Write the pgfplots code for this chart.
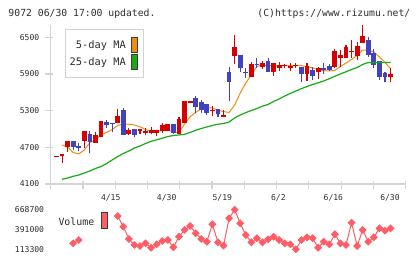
\documentclass[border=0pt]{standalone}
\usepackage{pgfplots}
\pgfplotsset{compat=1.18}
\usepackage{pgfplotstable}
\usepackage{fontspec}
\setmainfont{DejaVu Sans Mono}
\setmonofont{DejaVu Sans Mono}
\definecolor{upred}{RGB}{214,0,0}
\definecolor{downblue}{RGB}{66,66,190}
\definecolor{maorange}{RGB}{240,140,20}
\definecolor{magreen}{RGB}{22,170,22}
\definecolor{volpink}{RGB}{255,92,102}
\definecolor{axgray}{RGB}{212,212,212}
\definecolor{txt}{RGB}{45,45,45}
\definecolor{swborder}{RGB}{60,60,60}

% up (red) candles: index open high low close
\pgfplotstableread{
x o h l c
0 4550 4556 4550 4556
1 4552 4591 4439 4591
2 4710 4799 4628 4799
5 4808 4967 4684 4967
7 4776 4956 4776 4902
8 4874 5131 4874 5131
11 5093 5322 5093 5212
13 4918 5011 4902 4983
15 4972 4995 4913 4995
16 4939 5011 4902 4967
17 4929 5028 4913 4983
18 4929 4983 4885 4983
19 4972 5093 4939 5065
20 4972 5082 4972 5082
22 4918 5201 4918 5163
23 5093 5460 5093 5458
24 5420 5458 5420 5458
28 5294 5376 5212 5311
30 5201 5311 5201 5229
32 6199 6538 6058 6346
35 5855 6091 5855 6058
37 6019 6112 5981 6085
39 5937 6074 5867 6074
40 6003 6091 5954 6047
41 6025 6063 5993 6047
42 6003 6074 5954 6035
43 6025 6074 5997 6047
45 5900 6074 5790 6030
47 5937 6019 5818 5993
50 6019 6309 5993 6276
51 6166 6292 6019 6210
52 6156 6374 6156 6346
53 6254 6456 6166 6276
54 6199 6418 6128 6363
55 6402 6701 6402 6526
60 5855 6003 5774 5900
}\uptab

% down (blue) candles: index open high low close
\pgfplotstableread{
x o h l c
3 4799 4799 4656 4710
4 4727 4766 4640 4684
6 4918 4967 4602 4792
9 5109 5147 5011 5065
10 5093 5093 4956 5082
12 5311 5338 4902 4902
14 4995 4995 4874 4907
21 5082 5082 4918 4939
25 5502 5540 5257 5365
26 5447 5474 5257 5311
27 5409 5409 5229 5266
29 5322 5322 5191 5240
31 5937 6019 5458 5774
33 6210 6210 5937 5993
34 5937 6003 5839 5921
36 6063 6156 5993 6047
38 6112 6166 5937 5937
44 6019 6019 5774 5900
46 5965 6019 5801 5872
48 5993 6074 5895 5965
49 6035 6063 5954 5965
56 6456 6510 6183 6210
57 6238 6309 5993 6047
58 6112 6112 5801 5855
59 5911 5937 5764 5855
}\downtab

% 5-day moving average
\pgfplotstableread{
x v
1 4738
2 4705
3 4615
4 4591
5 4656
6 4779
7 4820
8 4902
9 4946
10 4992
11 5057
12 5082
13 5077
14 5065
15 5037
16 4992
17 4967
18 4972
19 4975
20 4983
21 4951
22 4943
23 5080
24 5200
25 5270
26 5330
27 5348
28 5343
29 5306
30 5286
31 5270
32 5392
33 5589
34 5752
35 5883
36 6022
37 6047
38 6035
39 6035
40 6035
41 6035
42 6035
43 6035
44 6035
45 6022
46 5998
47 5973
48 5954
49 5949
50 5957
51 6022
52 6080
53 6137
54 6202
55 6292
56 6292
57 6260
58 6178
59 6088
60 5990
}\mafive

% 25-day moving average
\pgfplotstableread{
x v
1 4177
2 4198
3 4226
4 4247
5 4280
6 4313
7 4354
8 4386
9 4435
10 4493
11 4550
12 4599
13 4640
14 4689
15 4722
16 4763
17 4799
18 4823
19 4849
20 4877
21 4893
22 4902
23 4913
24 4943
25 4979
26 5008
27 5033
28 5057
29 5078
30 5090
31 5114
32 5180
33 5229
34 5267
35 5303
36 5335
37 5373
38 5401
39 5450
40 5491
41 5540
42 5581
43 5621
44 5659
45 5695
46 5728
47 5756
48 5785
49 5823
50 5862
51 5900
52 5936
53 5973
54 6006
55 6055
56 6088
57 6088
58 6088
59 6088
60 6088
}\matwentyfive

% volume (points visible beside the Volume label)
\pgfplotstableread{
x v
3 202000
4 248000
}\volA
\pgfplotstableread{
x v
11 581000
12 433000
13 262000
14 179000
15 165000
16 202000
17 141000
18 188000
19 234000
20 248000
21 147000
22 294000
23 387000
24 442000
25 341000
26 262000
27 224000
28 466000
29 216000
30 169000
31 549000
32 669000
33 480000
34 317000
35 216000
36 272000
37 216000
38 258000
39 294000
40 248000
41 202000
42 188000
43 119000
44 248000
45 285000
46 272000
47 141000
48 224000
49 188000
50 327000
51 202000
52 179000
53 488000
54 165000
55 387000
56 224000
57 285000
58 410000
59 377000
60 410000
}\volB

\begin{document}
\begin{tikzpicture}
\useasboundingbox (0,0) rectangle (420bp,259bp);

\begin{axis}[
  at={(50.7bp,75bp)}, anchor=south west,
  scale only axis, width=355bp, height=159bp,
  xmin=-1.042, xmax=62.725, ymin=4100, ymax=6701,
  clip=false,
  axis x line*=bottom, axis y line*=left,
  axis line style={draw=axgray, line width=1.2bp, -},
  tick style={draw=axgray, line width=1.2bp},
  tick align=center,
  major tick length=8.4bp,
  x tick style={yshift=-1bp},
  y tick style={xshift=-1.5bp},
  xtick={-1.042,4.755,10.552,16.349,22.146,27.943,33.740,39.537,45.334,51.131,56.928,62.725},
  xticklabels={},
  extra x ticks={9.74,19.79,29.79,39.85,49.73,59.9},
  extra x tick labels={4/15,4/30,5/19,6/2,6/16,6/30},
  extra x tick style={major tick length=0pt, tick style={draw=none},
     xticklabel style={anchor=north, yshift=-10.5bp}},
  ytick={4100,4700,5300,5900,6500},
  yticklabels={4100,4700,5300,5900,6500},
  /pgf/number format/assume math mode=true,
  ticklabel style={font=\fontsize{8.1}{9}\selectfont, text=txt, inner sep=0pt},
  yticklabel style={anchor=east, xshift=-7bp},
]
% 5-day MA
\addplot[maorange, line width=1bp, mark=none] table[x=x, y=v] {\mafive};
% wicks
\addplot[draw=none, mark=none, forget plot, error bars/.cd, y dir=plus, y explicit,
  error mark=none, error bar style={draw=upred, line width=1.1bp}]
  table[x=x, y=l, y error plus expr={\thisrow{h}-\thisrow{l}}] {\uptab};
\addplot[draw=none, mark=none, forget plot, error bars/.cd, y dir=plus, y explicit,
  error mark=none, error bar style={draw=downblue, line width=1.1bp}]
  table[x=x, y=l, y error plus expr={\thisrow{h}-\thisrow{l}}] {\downtab};
% bodies
\addplot[draw=none, mark=none, forget plot, error bars/.cd, y dir=plus, y explicit,
  error mark=none, error bar style={draw=upred, line width=4.8bp}]
  table[x=x, y=o, y error plus expr={max(\thisrow{c}-\thisrow{o},16)}] {\uptab};
\addplot[draw=none, mark=none, forget plot, error bars/.cd, y dir=plus, y explicit,
  error mark=none, error bar style={draw=downblue, line width=4.8bp}]
  table[x=x, y=c, y error plus expr={max(\thisrow{o}-\thisrow{c},16)}] {\downtab};
% 25-day MA
\addplot[magreen, line width=1.2bp, mark=none] table[x=x, y=v] {\matwentyfive};
\end{axis}

\begin{axis}[
  at={(50.7bp,9.3bp)}, anchor=south west,
  scale only axis, width=355bp, height=40bp,
  xmin=-1.042, xmax=62.725, ymin=113300, ymax=668700,
  clip=false,
  axis line style={draw=none},
  major tick length=0pt,
  xtick=\empty,
  ytick={113300,391000,668700},
  yticklabels={113300,391000,668700},
  scaled y ticks=false,
  /pgf/number format/assume math mode=true,
  ticklabel style={font=\fontsize{8.1}{9}\selectfont, text=txt, inner sep=0pt},
  yticklabel style={anchor=east, xshift=-6.4bp},
]
\addplot[volpink, line width=1bp, mark=square*, mark size=2.3bp,
  mark options={rotate=45, fill=volpink, draw=volpink}] table[x=x, y=v] {\volA};
\addplot[volpink, line width=1bp, mark=square*, mark size=2.3bp,
  mark options={rotate=45, fill=volpink, draw=volpink}] table[x=x, y=v] {\volB};
\end{axis}

% header texts
\node[anchor=base west, inner sep=0pt, text=txt] at (8.3bp,242.3bp)
  {\fontsize{9.8}{12}\selectfont 9072 06/30 17:00 updated.};
\node[anchor=base east, inner sep=0pt, text=txt] at (410.5bp,242.3bp)
  {\fontsize{9.8}{12}\selectfont (C)https://www.rizumu.net/};

% legend for moving averages
\draw[draw=gray!35, fill=white, line width=1bp] (65.7bp,181.7bp) rectangle (143.3bp,229bp);
\node[anchor=base east, inner sep=0pt, text=txt] at (126bp,210bp)
  {\fontsize{10.4}{12}\selectfont 5-day MA};
\node[anchor=base east, inner sep=0pt, text=txt] at (126bp,193bp)
  {\fontsize{10.4}{12}\selectfont 25-day MA};
\draw[draw=swborder, fill=maorange, line width=0.9bp] (131.2bp,206.7bp) rectangle (137.2bp,221.7bp);
\draw[draw=swborder, fill=magreen, line width=0.9bp] (131.2bp,189.7bp) rectangle (137.2bp,204.7bp);

% volume label
\node[anchor=base west, inner sep=0pt, text=txt] at (58.3bp,33.3bp)
  {\fontsize{10}{12}\selectfont Volume};
\draw[draw=swborder, fill=volpink, line width=0.9bp] (101.2bp,30.7bp) rectangle (107.5bp,46.3bp);
\end{tikzpicture}
\end{document}
